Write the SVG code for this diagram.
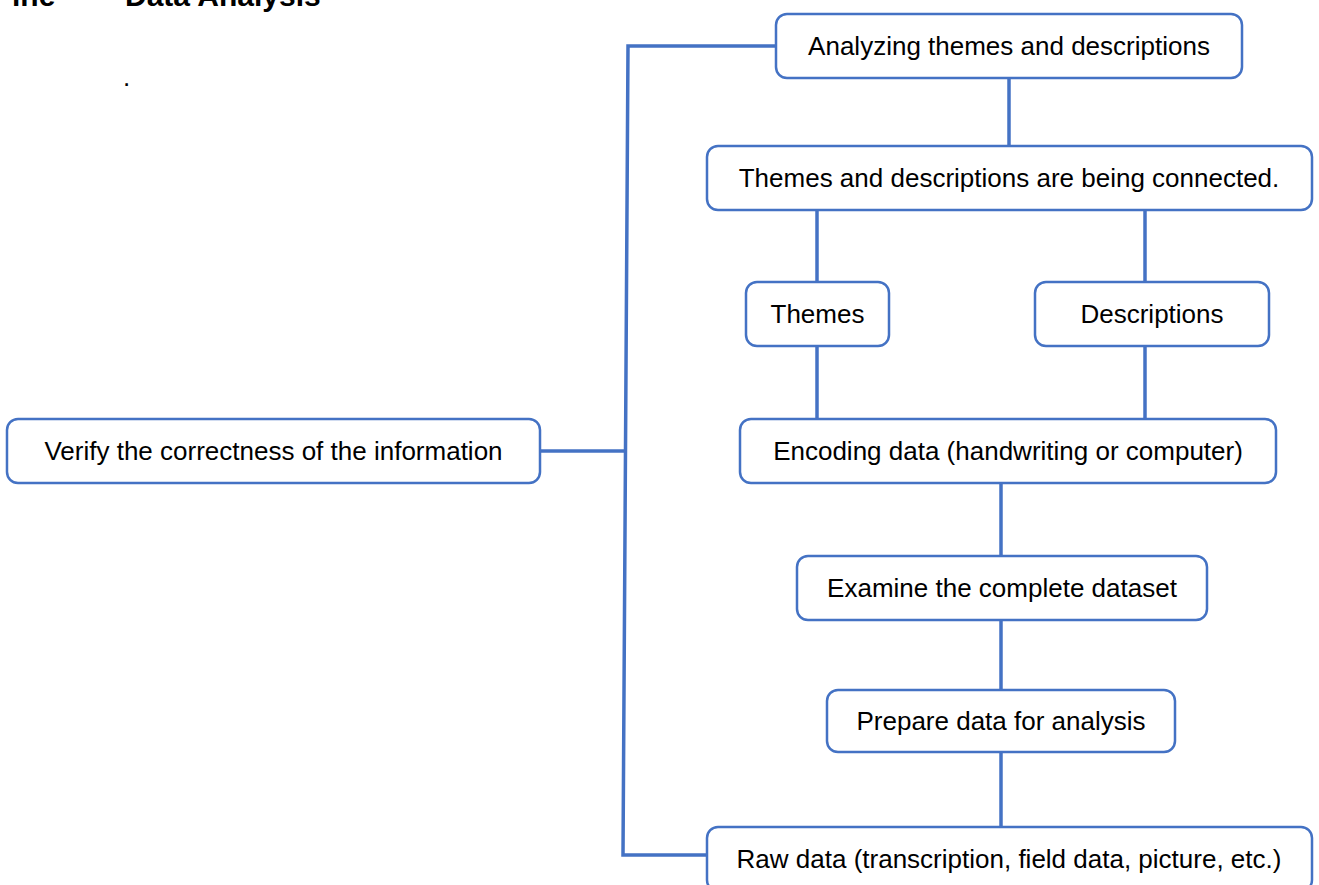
<svg xmlns="http://www.w3.org/2000/svg" width="1319" height="885" viewBox="0 0 1319 885">
<style>
.box{fill:#fff;stroke:#4472C4;stroke-width:2.5}
.lbl{font-family:"Liberation Sans",Arial,sans-serif;font-size:26px;fill:#000;text-anchor:middle}
.conn{stroke:#4472C4;stroke-width:3.5;fill:none}
.title{font-family:"Liberation Sans",Arial,sans-serif;font-size:30px;font-weight:bold;fill:#000}
</style>
<rect width="1319" height="885" fill="#fff"/>
<text class="title" x="12" y="6">ine</text>
<text class="title" x="125" y="6">Data Analysis</text>
<text x="123" y="86" style="font-family:'Liberation Sans',Arial,sans-serif;font-size:26px">.</text>
<g id="connectors">
<line class="conn" x1="1009" y1="78" x2="1009" y2="146"/>
<line class="conn" x1="817" y1="210" x2="817" y2="282"/>
<line class="conn" x1="1145" y1="210" x2="1145" y2="282"/>
<line class="conn" x1="817" y1="346" x2="817" y2="419"/>
<line class="conn" x1="1145" y1="346" x2="1145" y2="419"/>
<line class="conn" x1="1001" y1="483" x2="1001" y2="556"/>
<line class="conn" x1="1001" y1="620" x2="1001" y2="690"/>
<line class="conn" x1="1001" y1="752" x2="1001" y2="827"/>
<polyline class="conn" points="776,46 628,46 623,855 707,855"/>
<line class="conn" x1="540" y1="451" x2="625" y2="451"/>
</g>
<g id="n-analyzing"><rect class="box" x="776" y="14" width="466" height="64" rx="11"/><text class="lbl" x="1009" y="55">Analyzing themes and descriptions</text></g>
<g id="n-connected"><rect class="box" x="707" y="146" width="605" height="64" rx="11"/><text class="lbl" x="1009" y="187">Themes and descriptions are being connected.</text></g>
<g id="n-themes"><rect class="box" x="746" y="282" width="143" height="64" rx="11"/><text class="lbl" x="817.5" y="323">Themes</text></g>
<g id="n-descriptions"><rect class="box" x="1035" y="282" width="234" height="64" rx="11"/><text class="lbl" x="1152" y="323">Descriptions</text></g>
<g id="n-encoding"><rect class="box" x="740" y="419" width="536" height="64" rx="11"/><text class="lbl" x="1008" y="460">Encoding data (handwriting or computer)</text></g>
<g id="n-examine"><rect class="box" x="797" y="556" width="410" height="64" rx="11"/><text class="lbl" x="1002" y="597">Examine the complete dataset</text></g>
<g id="n-prepare"><rect class="box" x="827" y="690" width="348" height="62" rx="11"/><text class="lbl" x="1001" y="730">Prepare data for analysis</text></g>
<g id="n-raw"><rect class="box" x="707" y="827" width="605" height="64" rx="11"/><text class="lbl" x="1009" y="868">Raw data (transcription, field data, picture, etc.)</text></g>
<g id="n-verify"><rect class="box" x="7" y="419" width="533" height="64" rx="11"/><text class="lbl" x="273.5" y="460">Verify the correctness of the information</text></g>
</svg>
